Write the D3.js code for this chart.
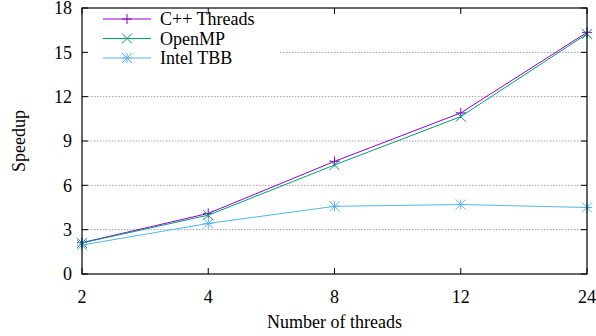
<!DOCTYPE html>
<html>
<head>
<meta charset="utf-8">
<script src="https://cdn.jsdelivr.net/npm/d3@7"></script>
<style>
  body { margin: 0; background: #fff; }
  text { font-family: "Liberation Serif", "Times New Roman", serif; fill: #000; }
</style>
</head>
<body>
<div id="chart"></div>
<script>
// data
var threads = ["2", "4", "8", "12", "24"];
var cppThreads = [2.12, 4.1, 7.62, 10.9, 16.35];
var openMP = [2.1, 3.98, 7.38, 10.65, 16.25];
var intelTBB = [1.96, 3.42, 4.58, 4.7, 4.5];
var yTicks = [0, 3, 6, 9, 12, 15, 18];

var series = [
  {name: "C++ Threads", values: cppThreads, color: "#9400d3", sym: "plus"},
  {name: "OpenMP", values: openMP, color: "#009e73", sym: "cross"},
  {name: "Intel TBB", values: intelTBB, color: "#56b4e9", sym: "star"}
];

var W = 596, H = 336;
var margin = {top: 8, right: 9, bottom: 62, left: 82};
var width = W - margin.left - margin.right,
    height = H - margin.top - margin.bottom;
var fs = "18px";

var svg = d3.select("#chart").append("svg")
    .attr("width", W)
    .attr("height", H);

var g = svg.append("g")
    .attr("transform", `translate(${margin.left},${margin.top})`);

var x = d3.scalePoint().domain(threads).range([0, width]);
var y = d3.scaleLinear().domain([0, 18]).range([height, 0]);

// grid
g.append("g")
    .selectAll("line")
    .data(yTicks.slice(1, -1))
    .enter()
    .append("line")
    .attr("x1", 0).attr("x2", width)
    .attr("y1", d => y(d)).attr("y2", d => y(d))
    .attr("stroke", "#a0a0a0")
    .attr("stroke-width", 1)
    .attr("stroke-dasharray", "1.5,1.5");

// legend background covers the grid
g.append("rect")
    .attr("x", 1).attr("y", 1)
    .attr("width", 197).attr("height", 59)
    .attr("fill", "#fff");

// tick marks (inside, mirrored)
var tk = 6;
g.append("g").selectAll("line")
    .data(yTicks)
    .enter().append("line")
    .attr("x1", 0).attr("x2", tk)
    .attr("y1", d => y(d)).attr("y2", d => y(d))
    .attr("stroke", "#000");
g.append("g").selectAll("line")
    .data(yTicks)
    .enter().append("line")
    .attr("x1", width - tk).attr("x2", width)
    .attr("y1", d => y(d)).attr("y2", d => y(d))
    .attr("stroke", "#000");
g.append("g").selectAll("line")
    .data(threads)
    .enter().append("line")
    .attr("x1", d => x(d)).attr("x2", d => x(d))
    .attr("y1", height).attr("y2", height - tk)
    .attr("stroke", "#000");
g.append("g").selectAll("line")
    .data(threads)
    .enter().append("line")
    .attr("x1", d => x(d)).attr("x2", d => x(d))
    .attr("y1", 0).attr("y2", tk)
    .attr("stroke", "#000");

// tick labels
g.append("g").selectAll("text")
    .data(yTicks)
    .enter().append("text")
    .attr("x", -10)
    .attr("y", d => y(d))
    .attr("dy", "0.35em")
    .attr("text-anchor", "end")
    .style("font-size", fs)
    .text(d => d);
g.append("g").selectAll("text")
    .data(threads)
    .enter().append("text")
    .attr("x", d => x(d))
    .attr("y", height + 29)
    .attr("text-anchor", "middle")
    .style("font-size", fs)
    .text(d => d);

// axis titles
svg.append("text")
    .attr("transform", `translate(25,${margin.top + height / 2}) rotate(-90)`)
    .attr("text-anchor", "middle")
    .style("font-size", fs)
    .text("Speedup");
svg.append("text")
    .attr("x", margin.left + width / 2)
    .attr("y", 328)
    .attr("text-anchor", "middle")
    .style("font-size", fs)
    .text("Number of threads");

function symbol(sel, sym, s) {
  var p;
  if (sym === "plus") p = `M${-s},0H${s}M0,${-s}V${s}`;
  else if (sym === "cross") p = `M${-s},${-s}L${s},${s}M${-s},${s}L${s},${-s}`;
  else p = `M${-s},0H${s}M0,${-s}V${s}M${-s},${-s}L${s},${s}M${-s},${s}L${s},${-s}`;
  sel.append("path").attr("d", p);
}

var line = d3.line()
    .x((d, i) => x(threads[i]))
    .y(d => y(d));

series.forEach(s => {
  var sg = g.append("g");
  sg.append("path")
      .attr("d", line(s.values))
      .attr("fill", "none")
      .attr("stroke", s.color)
      .attr("stroke-width", 1);
  sg.selectAll("g.pt")
      .data(s.values)
      .enter().append("g")
      .attr("class", "pt")
      .attr("transform", (d, i) => `translate(${x(threads[i])},${y(d)})`)
      .attr("stroke", s.color)
      .attr("fill", "none")
      .each(function() { symbol(d3.select(this), s.sym, 5); });
});

// legend
var leg = g.append("g");
series.forEach((s, i) => {
  var ly = 11 + i * 19.5;
  leg.append("line")
      .attr("x1", 21).attr("x2", 69)
      .attr("y1", ly).attr("y2", ly)
      .attr("stroke", s.color);
  var pg = leg.append("g")
      .attr("transform", `translate(45,${ly})`)
      .attr("stroke", s.color)
      .attr("fill", "none");
  symbol(pg, s.sym, 5);
  leg.append("text")
      .attr("x", 78)
      .attr("y", ly)
      .attr("dy", "0.35em")
      .style("font-size", fs)
      .text(s.name);
});

// border
g.append("rect")
    .attr("width", width).attr("height", height)
    .attr("fill", "none")
    .attr("stroke", "#000")
    .attr("stroke-width", 1.2);
</script>
</body>
</html>
